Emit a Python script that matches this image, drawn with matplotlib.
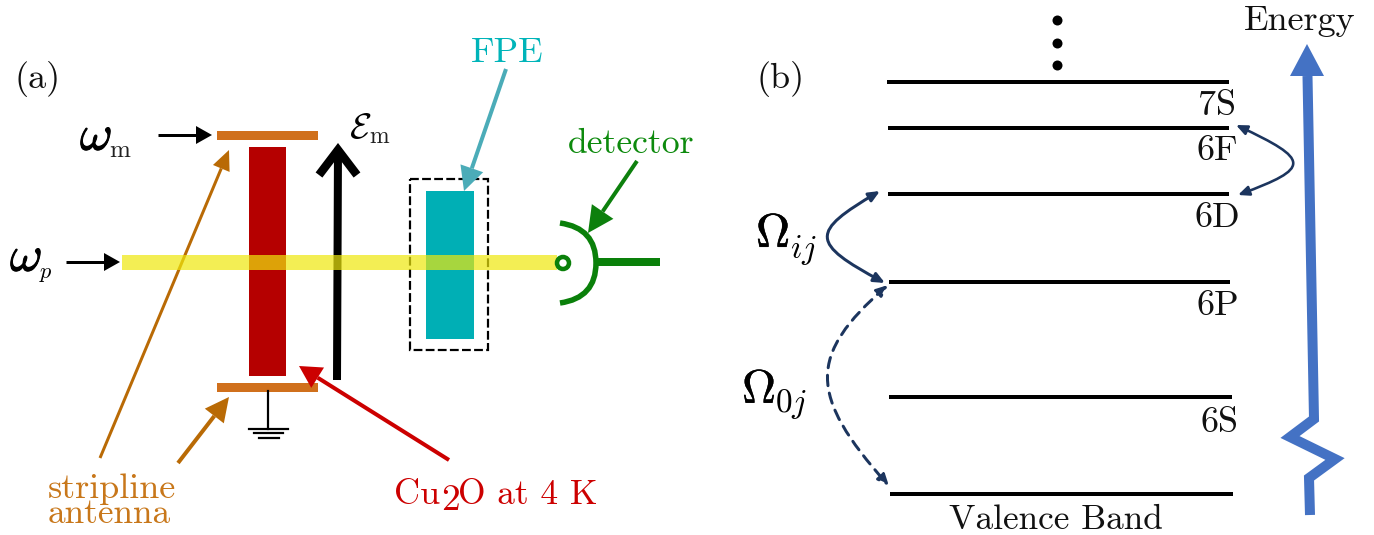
import numpy as np
import matplotlib
matplotlib.use("Agg")
import matplotlib.pyplot as plt
from matplotlib.patches import Rectangle, Circle, PathPatch, FancyArrowPatch
from matplotlib.path import Path
import matplotlib.patheffects as pe

plt.rcParams['mathtext.fontset'] = 'cm'
plt.rcParams['font.family'] = ['cmr10', 'DejaVu Serif']
plt.rcParams['axes.unicode_minus'] = False

W, H = 1374, 535

# Panel (b): energy levels (x0, x1, y)
levels_x0 = [887, 888, 888, 889, 889, 890]
levels_x1 = [1229, 1229, 1229, 1230, 1232, 1233]
levels_y = [82, 128, 194, 282, 397, 494]
level_names = ['7S', '6F', '6D', '6P', '6S']
level_name_x = [1198, 1196, 1195, 1197, 1200]
level_name_y = [115, 160, 227, 315, 432]
dots_x = [1057, 1057, 1057]
dots_y = [20, 43, 65]

# Energy axis polyline
energy_x = [1310, 1309, 1335, 1290, 1314, 1307.5]
energy_y = [515, 478, 459, 437, 419, 76]
energy_head = [(1307, 44), (1290, 76), (1324, 76)]

# Panel (a): rectangles (x, y, w, h)
antenna_top = (217, 131, 101, 9)
antenna_bot = (217, 383, 101, 9)
sample_rect = (249, 147, 37, 229)
fpe_rect = (426, 191, 48, 148)
fpe_box = (410, 179, 78, 171)
beam_rect = (122, 255, 435, 15)

# Straight arrows: x0, y0, x1, y1, colour, lw(px), head length, head width
arrows = [
    (158, 135, 212, 135, 'black', 3, 16, 18),
    (66, 262, 120, 262, 'black', 3, 16, 18),
    (100, 458, 229, 150, 'C_TAN', 3, 20, 18),
    (178, 463, 229, 397, 'C_TAN', 4, 24, 24),
    (449, 460, 299, 366, 'C_RED', 4, 22, 24),
    (506, 69, 464, 191, 'C_TEAL', 4, 24, 24),
    (637, 161, 588, 233, 'C_GREEN', 4, 26, 26),
]

ground_stem = ([268, 268], [391, 429])
ground_x0 = [249, 254, 259]
ground_x1 = [288, 283, 279]
ground_y = [429, 433, 438]

field_x = [337, 338]
field_y = [380, 148]
field_head_x = [319, 338, 357]
field_head_y = [175, 150, 175]

labels = [
    ('(a)', 14, 88, 26, '#111111'),
    ('(b)', 756, 88, 26, '#111111'),
    ('FPE', 471, 62, 26, '#00b4b9'),
    ('detector', 568, 153, 25.7, '#0d8a0d'),
    ('stripline', 48, 498, 26, '#c8771a'),
    ('antenna', 48, 523, 25.4, '#c8771a'),
    ('Cu', 394, 504, 26, '#cc0000'),
    ('2', 441, 510, 27, '#cc0000'),
    ('O at 4 K', 458, 504, 25.5, '#cc0000'),
    ('Valence Band', 949, 529, 25.4, '#111111'),
    ('Energy', 1244, 30, 26, '#111111'),
    ('m', 109, 157, 18, '#222222'),
    ('m', 369, 143, 17, '#222222'),
]
math_labels = [
    (r'$\omega$', 80, 150, 36, 0.7),
    (r'$\omega$', 10, 271, 36, 0.7),
    (r'$p$', 39, 278, 16, 0),
    (r'$\mathcal{E}$', 349, 138, 26, 0),
    (r'$\Omega$', 756, 247, 34, 0.4),
    (r'$ij$', 790, 258, 24, 0),
    (r'$\Omega$', 742, 403, 34, 0.2),
    (r'$0j$', 775, 412, 24, 0),
]

# Curved couplings: cubic Bezier control points
curve_ij = [(880, 191), (810, 232), (810, 243), (885, 283)]
curve_fd = [(1236, 125), (1311, 160), (1311, 168), (1238, 195)]
curve_0j = [(888, 285), (808, 355), (808, 395), (889, 486)]

COLORS = {'C_TAN': '#b96a05', 'C_RED': '#cc0000', 'C_TEAL': '#4bacb8',
          'C_GREEN': '#0d800d', 'black': 'black'}
NAVY = '#1c355e'
px = 72 / 100

fig = plt.figure(figsize=(W / 100, H / 100), dpi=100)
ax = fig.add_axes([0, 0, 1, 1])
ax.set_xlim(0, W)
ax.set_ylim(H, 0)
ax.axis('off')


def rect(r, **kw):
    ax.add_patch(Rectangle((r[0], r[1]), r[2], r[3], **kw))


def arrow(x0, y0, x1, y1, c, lw, hl, hw):
    c = COLORS[c]
    d = np.array([x1 - x0, y1 - y0], float)
    d /= np.hypot(*d)
    n = np.array([-d[1], d[0]])
    tip = np.array([x1, y1], float)
    base = tip - d * hl
    ax.plot([x0, base[0]], [y0, base[1]], color=c, lw=lw * px, solid_capstyle='butt', zorder=6)
    tri = np.array([tip, base + n * hw / 2, base - n * hw / 2])
    ax.fill(tri[:, 0], tri[:, 1], color=c, lw=0, zorder=6)


# Panel (a)
rect(antenna_top, color='#d0701c', lw=0, zorder=2)
rect(antenna_bot, color='#d0701c', lw=0, zorder=2)
rect(sample_rect, color='#b50000', lw=0, zorder=2)
rect(fpe_rect, color='#00afb5', lw=0, zorder=2)
rect(fpe_box, fill=False, ec='black', lw=2.2 * px, ls=(0, (4, 1.5)), zorder=3)

ax.plot(field_x, field_y, color='black', lw=8 * px, solid_capstyle='butt', zorder=3)
ax.plot(field_head_x, field_head_y, color='black', lw=8.5 * px, solid_joinstyle='miter',
        solid_capstyle='butt', zorder=3)

ax.plot(*ground_stem, color='black', lw=2.2 * px, zorder=3)
for a, b, y in zip(ground_x0, ground_x1, ground_y):
    ax.plot([a, b], [y, y], color='black', lw=2.2 * px, zorder=3)

for a in arrows:
    arrow(*a)

rect(beam_rect, color='#efe80c', alpha=0.7, lw=0, zorder=7)

ax.add_patch(Circle((563, 263), 6, fc='white', ec='#0a800a', lw=4.5 * px, zorder=8))
ax.add_patch(PathPatch(Path([(560, 223), (596, 228), (596, 263), (596, 298), (560, 303)],
                            [Path.MOVETO, Path.CURVE3, Path.CURVE3, Path.CURVE3, Path.CURVE3]),
                       fill=False, ec='#0a800a', lw=5.5 * px, zorder=8))
ax.plot([597, 660], [262, 262], color='#0a800a', lw=8 * px, solid_capstyle='butt', zorder=8)

# Panel (b)
for a, b, y in zip(levels_x0, levels_x1, levels_y):
    ax.plot([a, b], [y, y], color='black', lw=4 * px, solid_capstyle='butt', zorder=3)
ax.scatter(dots_x, dots_y, s=(10 * px) ** 2, color='black', lw=0, zorder=3)

ax.plot(energy_x, energy_y, color='#4472c4', lw=10 * px, solid_joinstyle='miter',
        solid_capstyle='butt', zorder=3)
hx, hy = zip(*energy_head)
ax.fill(hx, hy, color='#4472c4', lw=0, zorder=3)


def curve(pts, **kw):
    path = Path(pts, [Path.MOVETO, Path.CURVE4, Path.CURVE4, Path.CURVE4])
    ax.add_patch(FancyArrowPatch(path=path, arrowstyle='<|-|>,head_length=0.5,head_width=0.22',
                                 mutation_scale=13, color=NAVY, zorder=4, **kw))


curve(curve_ij, lw=3 * px)
curve(curve_fd, lw=2.6 * px)
curve(curve_0j, lw=3 * px, linestyle=(0, (3.5, 2.5)))

# Text
for s, x, y, fs, c in labels:
    ax.text(x, y, s, fontsize=fs, color=c, ha='left', va='baseline', zorder=9)
for s, x, y in zip(level_names, level_name_x, level_name_y):
    ax.text(x, y, s, fontsize=26, color='#111111', ha='left', va='baseline', zorder=9)
for s, x, y, fs, stroke in math_labels:
    t = ax.text(x, y, s, fontsize=fs, color='black', ha='left', va='baseline', zorder=9)
    if stroke:
        t.set_path_effects([pe.withStroke(linewidth=stroke, foreground='black')])

fig.savefig('out.png', dpi=100, facecolor='white')
